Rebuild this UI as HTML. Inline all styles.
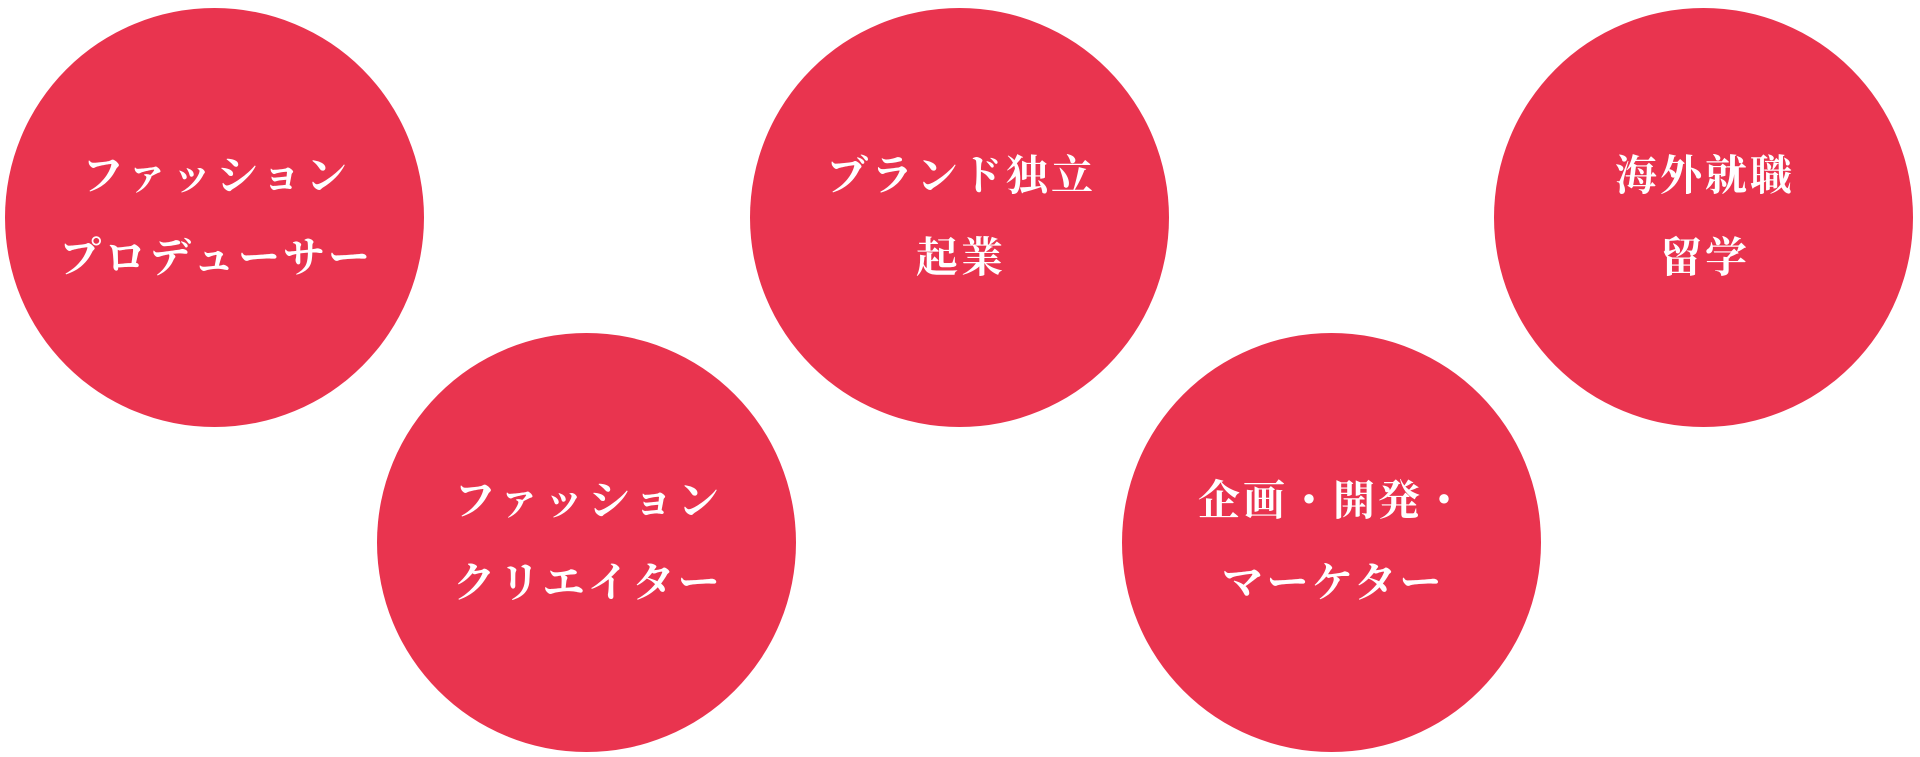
<!DOCTYPE html>
<html><head><meta charset="utf-8"><style>
html,body{margin:0;padding:0;background:#fff;width:1920px;height:757px;overflow:hidden}
.c{position:absolute;width:419px;height:419px;border-radius:50%;background:#e9344f;display:flex;align-items:center;justify-content:center;text-align:center;color:#fff;font-family:"Liberation Serif","Noto Serif CJK SC",serif;font-weight:bold;font-size:42px;line-height:82px;letter-spacing:3px}
.c span{display:block;margin-right:-3px}
</style></head><body>
<div class="c" style="left:5px;top:8px"><div><span>ファッション</span><span>プロデューサー</span></div></div>
<div class="c" style="left:377px;top:333px"><div><span>ファッション</span><span>クリエイター</span></div></div>
<div class="c" style="left:750px;top:8px"><div><span>ブランド独立</span><span>起業</span></div></div>
<div class="c" style="left:1122px;top:333px"><div><span>企画・開発・</span><span>マーケター</span></div></div>
<div class="c" style="left:1494px;top:8px"><div><span>海外就職</span><span>留学</span></div></div>
</body></html>
